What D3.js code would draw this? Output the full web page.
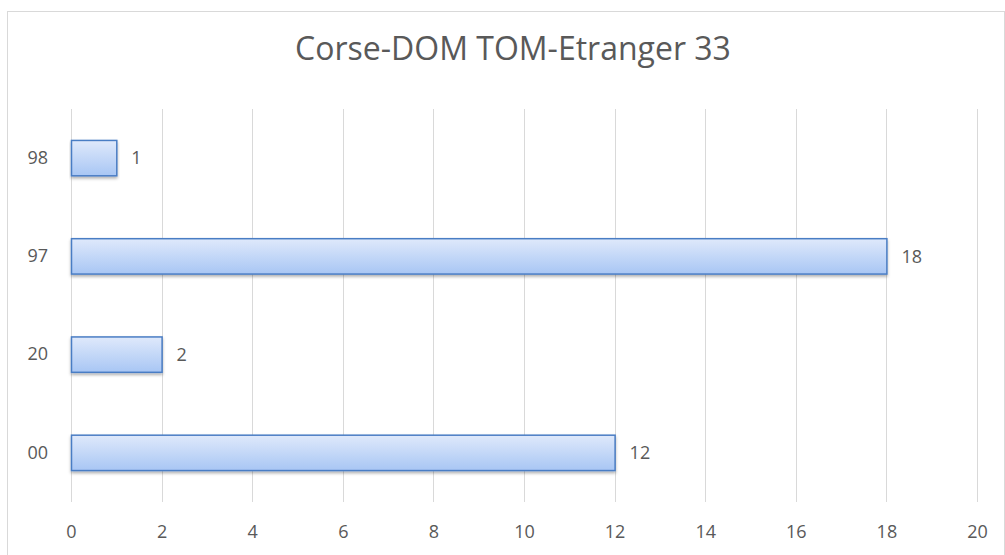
<!DOCTYPE html>
<html><head><meta charset="utf-8">
<script src="https://cdn.jsdelivr.net/npm/d3@7"></script>
<style>body{margin:0;background:#fff}svg{display:block}text{font-family:"Open Sans",sans-serif;fill:#595959}</style>
</head><body><svg id="c" width="1005" height="555"></svg>
<script>
const categories = ["00","20","97","98"];
const values = [12,2,18,1];
const xTicks = [0,2,4,6,8,10,12,14,16,18,20];
const title = "Corse-DOM TOM-Etranger 33";

const svg = d3.select("#c");
const defs = svg.append("defs");
const g = defs.append("linearGradient").attr("id","bg").attr("x1",0).attr("y1",0).attr("x2",0).attr("y2",1);
g.append("stop").attr("offset","0%").attr("stop-color","#dfe9fb");
g.append("stop").attr("offset","100%").attr("stop-color","#a8c6f4");
const f = defs.append("filter").attr("id","sh").attr("x","-5%").attr("y","-20%").attr("width","110%").attr("height","160%");
f.append("feDropShadow").attr("dx",0).attr("dy",2).attr("stdDeviation",1.5).attr("flood-color","#000").attr("flood-opacity",0.3);

svg.append("rect").attr("x",7.5).attr("y",11.5).attr("width",997).attr("height",560).attr("fill","#fff").attr("stroke","#d9d9d9");

const x = d3.scaleLinear().domain([0,20]).range([71,977]);
const y = d3.scaleBand().domain(categories.slice().reverse()).range([109,502]).paddingInner(0.64).paddingOuter(0.32);

svg.append("g").selectAll("line").data(xTicks).join("line")
  .attr("x1",d=>Math.round(x(d))+0.5).attr("x2",d=>Math.round(x(d))+0.5)
  .attr("y1",109).attr("y2",502).attr("stroke","#d9d9d9").attr("stroke-width",1);

const xa = svg.append("g").attr("transform","translate(0,502)").call(d3.axisBottom(x).tickValues(xTicks).tickSize(0).tickPadding(0));
xa.select(".domain").remove();
xa.selectAll("text").attr("font-size",18).attr("y",30).attr("dy","0.35em").style("font-family","'Open Sans', sans-serif").attr("fill","#595959");

const ya = svg.append("g").attr("transform","translate(71,0)").call(d3.axisLeft(y).tickSize(0).tickPadding(23));
ya.select(".domain").remove();
ya.selectAll("text").attr("font-size",18).style("font-family","'Open Sans', sans-serif").attr("fill","#595959");

svg.append("g").selectAll("rect").data(categories).join("rect")
  .attr("x",x(0)+0.5).attr("y",d=>y(d))
  .attr("width",(d,i)=>x(values[i])-x(0)).attr("height",y.bandwidth())
  .attr("fill","url(#bg)").attr("stroke","#4a7dc4").attr("stroke-width",1.5).attr("filter","url(#sh)");

svg.append("g").selectAll("text").data(categories).join("text")
  .attr("x",(d,i)=>x(values[i])+15).attr("y",d=>y(d)+y.bandwidth()/2).attr("dy","0.35em")
  .attr("font-size",18).text((d,i)=>values[i]);

svg.append("text").attr("x",513).attr("y",60).attr("text-anchor","middle").attr("font-size",32).text(title);
</script></body></html>
